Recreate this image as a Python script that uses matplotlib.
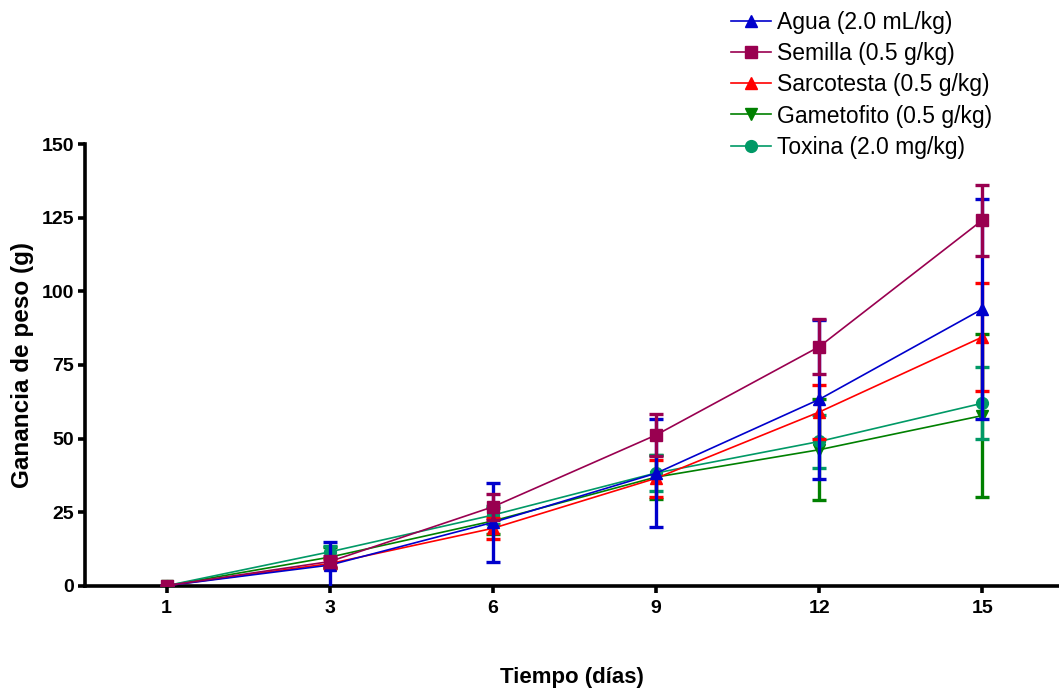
import matplotlib.pyplot as plt
import numpy as np

plt.rcParams['font.family'] = ['Liberation Sans', 'DejaVu Sans']

days = ['1', '3', '6', '9', '12', '15']

agua = [0, 7.0, 21.5, 38.2, 63.3, 94.0]
agua_sd = [0, 8.0, 13.3, 18.3, 27.0, 37.5]

semilla = [0, 8.2, 26.8, 51.2, 81.2, 124.2]
semilla_sd = [0, 2.0, 4.4, 7.0, 9.3, 12.0]

sarcotesta = [0, 7.5, 19.5, 36.5, 59.0, 84.5]
sarcotesta_sd = [0, 1.5, 3.5, 6.3, 9.3, 18.5]

gametofito = [0, 9.7, 22.0, 36.9, 46.2, 57.8]
gametofito_sd = [0, 3.6, 4.5, 7.5, 17.2, 27.6]

toxina = [0, 11.5, 24.0, 38.3, 49.0, 62.0]
toxina_sd = [0, 2.0, 3.0, 6.0, 9.0, 12.3]

series = [
    ('Agua (2.0 mL/kg)', agua, agua_sd, '#0000CC', '^', 5),
    ('Semilla (0.5 g/kg)', semilla, semilla_sd, '#990050', 's', 6),
    ('Sarcotesta (0.5 g/kg)', sarcotesta, sarcotesta_sd, '#FF0000', '^', 4),
    ('Gametofito (0.5 g/kg)', gametofito, gametofito_sd, '#008000', 'v', 2),
    ('Toxina (2.0 mg/kg)', toxina, toxina_sd, '#009966', 'o', 3),
]

fig = plt.figure(figsize=(10.59, 6.88), dpi=100)
ax = fig.add_axes([0.0803, 0.1487, 0.9197, 0.6416])

x = np.arange(len(days))
handles = []
for label, vals, sd, color, mk, z in series:
    ax.errorbar(x, vals, yerr=sd, fmt='none', ecolor=color, elinewidth=2.4,
                capsize=4.8, capthick=2.4, zorder=z)
    h, = ax.plot(x, vals, color=color, lw=1.2, marker=mk, markersize=8.5,
                 markeredgecolor=color, label=label, zorder=z + 0.5)
    handles.append(h)

ax.set_xlim(-0.5, 5.47)
ax.set_ylim(0, 150)
ax.set_xticks(x)
ax.set_xticklabels(days)
ax.set_yticks([0, 25, 50, 75, 100, 125, 150])

for side in ['top', 'right']:
    ax.spines[side].set_visible(False)
for side in ['left', 'bottom']:
    ax.spines[side].set_linewidth(2.6)
ax.tick_params(axis='both', direction='out', length=5, width=2.6, labelsize=14)
ax.tick_params(axis='x', pad=5)
ax.tick_params(axis='y', pad=3)
for lab in ax.get_xticklabels() + ax.get_yticklabels():
    lab.set_fontweight('bold')

ax.set_xlabel('Tiempo (días)', fontsize=16, fontweight='bold', labelpad=36)
ax.set_ylabel('Ganancia de peso (g)', fontsize=17.5, fontweight='bold', labelpad=5)

fig.legend(handles=handles, loc='upper left', bbox_to_anchor=(0.679, 1.0),
           frameon=False, fontsize=16.5, handlelength=1.75, handletextpad=0.3,
           labelspacing=0.35, borderaxespad=0.1)

fig.savefig('out.png', dpi=100)
